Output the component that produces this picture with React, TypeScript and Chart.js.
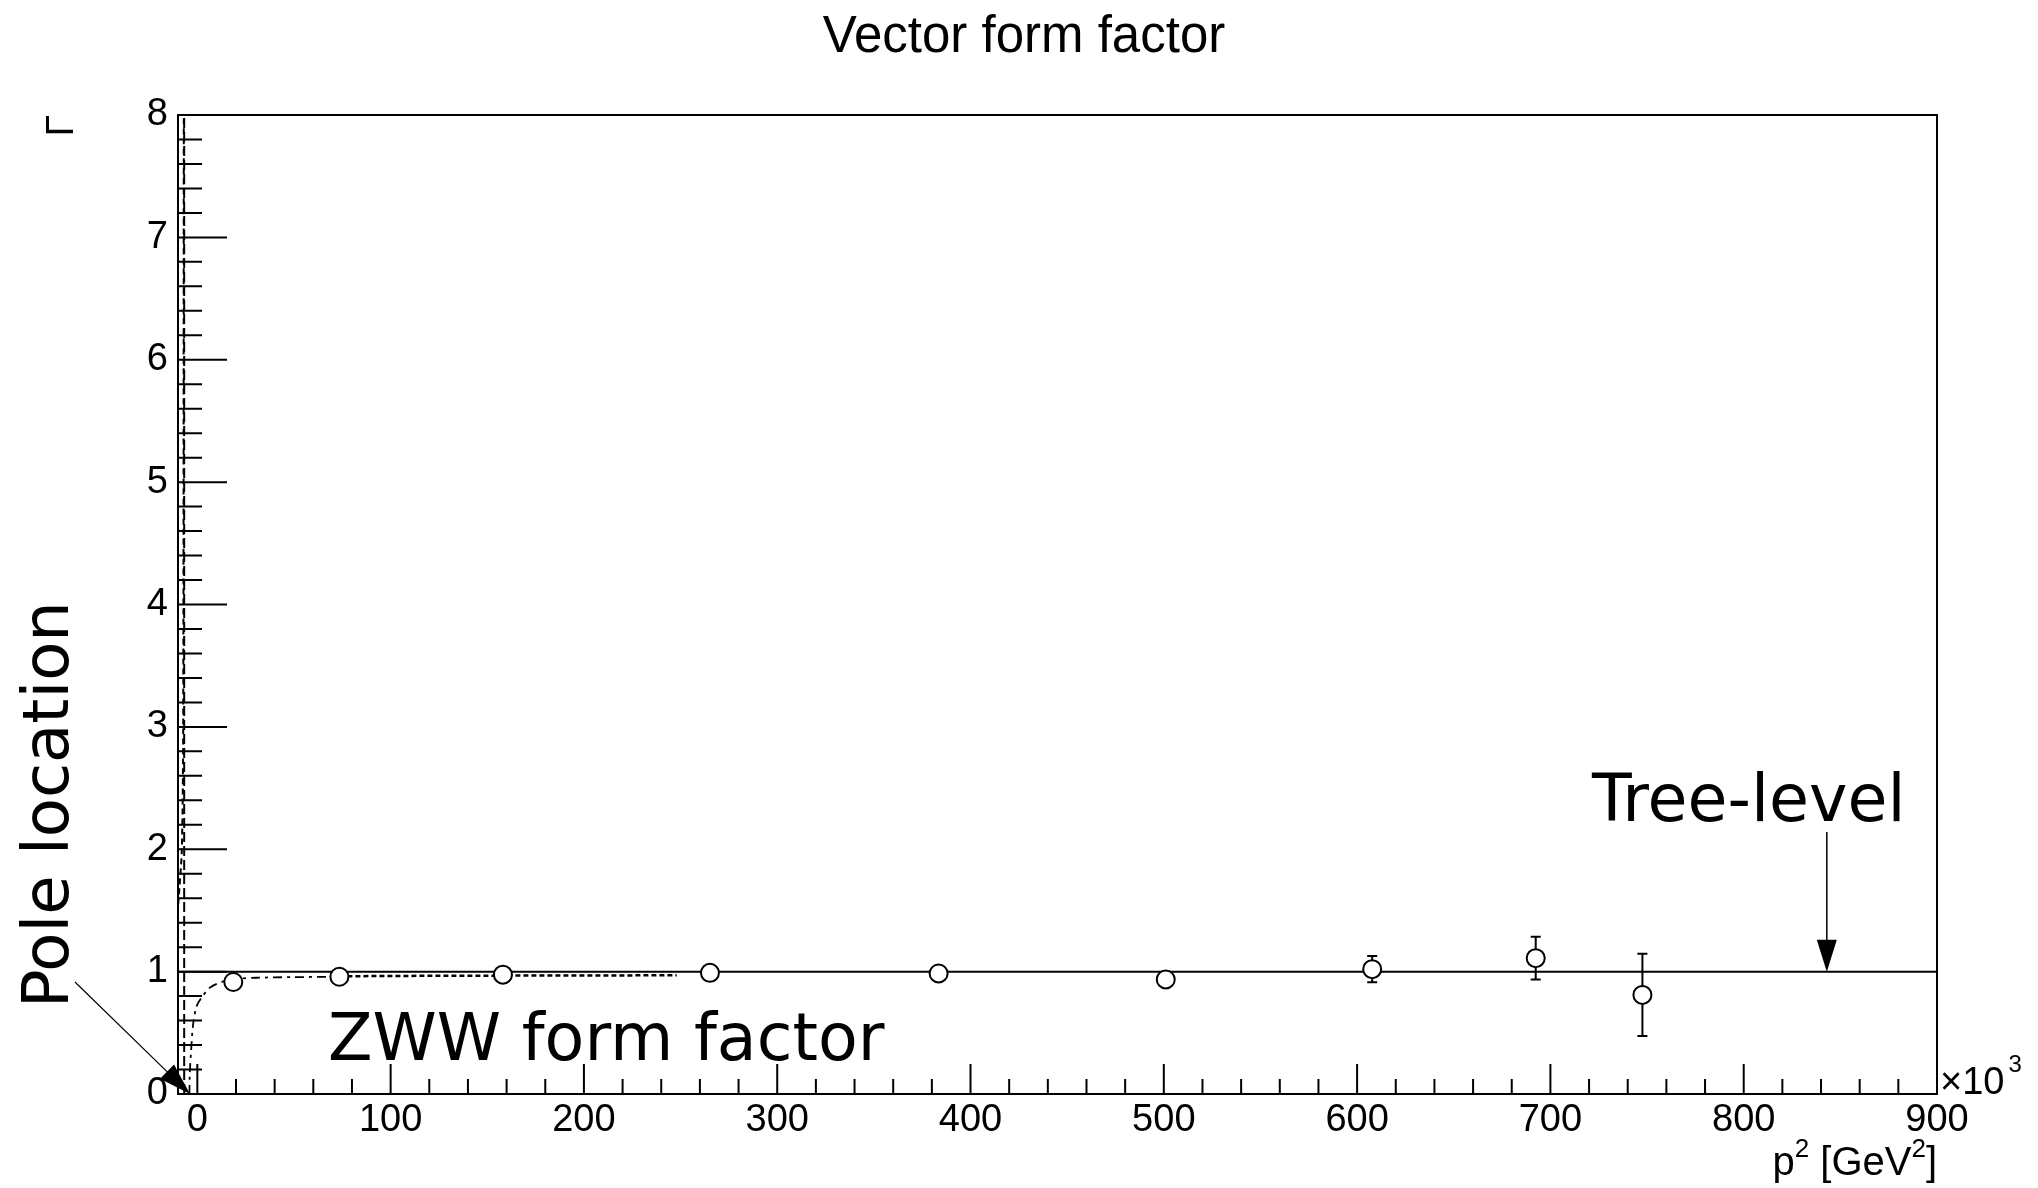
import React, { useEffect, useRef } from 'react';
import { Chart, registerables } from 'chart.js';

Chart.register(...registerables);

// ---- data (x in units of 10^3 GeV^2) ----
const pointX = [18.6, 73.5, 158.1, 265.2, 383.5, 501.0, 607.8, 692.4, 747.6];
const pointY = [0.915, 0.958, 0.975, 0.99, 0.985, 0.936, 1.02, 1.11, 0.81];
const pointErr = [0.015, 0.015, 0.015, 0.015, 0.015, 0.015, 0.107, 0.175, 0.336];

const treeX = [-10, 900];
const treeY = [1, 1];

const zwwX = [-4.1, -3.9, -3.2, -2.1, -0.3, 2.3, 6.6, 13.5, 20.4, 30.7, 50.0, 73.5];
const zwwY = [0.0, 0.17, 0.36, 0.58, 0.72, 0.79, 0.87, 0.92, 0.94, 0.95, 0.955, 0.958];

const zwwTailX = [73.5, 120, 180, 248];
const zwwTailY = [0.962, 0.966, 0.968, 0.97];

const poleX = [-6.8, -6.8];
const poleY = [0, 8];

const branchX = [-9.9, -9.2, -8.0, -7.3, -7.0];
const branchY = [1.55, 1.7, 2.0, 3.0, 8.0];

const xTicks = [0, 100, 200, 300, 400, 500, 600, 700, 800, 900];
const yTicks = [0, 1, 2, 3, 4, 5, 6, 7, 8];

const pts = (xs: number[], ys: number[]) => xs.map((x, i) => ({ x, y: ys[i] }));

const SANS = "'Liberation Sans', Arial, Helvetica, sans-serif";
const DEJA = "'DejaVu Sans', Verdana, sans-serif";

const overlay = {
  id: 'rootStyle',
  beforeDatasetsDraw(chart: any) {
    const { ctx } = chart;
    const xs = chart.scales.x;
    const ys = chart.scales.y;
    ctx.save();
    ctx.strokeStyle = '#000';
    ctx.lineWidth = 2;
    pointX.forEach((x, i) => {
      const px = xs.getPixelForValue(x);
      const y1 = ys.getPixelForValue(pointY[i] - pointErr[i]);
      const y2 = ys.getPixelForValue(pointY[i] + pointErr[i]);
      ctx.beginPath();
      ctx.moveTo(px, y1);
      ctx.lineTo(px, y2);
      ctx.moveTo(px - 5, y1);
      ctx.lineTo(px + 5, y1);
      ctx.moveTo(px - 5, y2);
      ctx.lineTo(px + 5, y2);
      ctx.stroke();
    });
    ctx.restore();
  },
  afterDraw(chart: any) {
    const { ctx, chartArea: a } = chart;
    const xs = chart.scales.x;
    const ys = chart.scales.y;
    ctx.save();
    ctx.strokeStyle = '#000';
    ctx.fillStyle = '#000';
    ctx.lineWidth = 2;
    // frame
    ctx.strokeRect(a.left, a.top, a.right - a.left, a.bottom - a.top);
    // x ticks (inward)
    ctx.beginPath();
    for (let v = 0; v <= 900; v += 20) {
      const px = xs.getPixelForValue(v);
      const len = v % 100 === 0 ? 30 : 15;
      ctx.moveTo(px, a.bottom);
      ctx.lineTo(px, a.bottom - len);
    }
    // y ticks (inward)
    for (let k = 0; k <= 40; k++) {
      const v = k * 0.2;
      const py = ys.getPixelForValue(v);
      const len = k % 5 === 0 ? 49 : 24;
      ctx.moveTo(a.left, py);
      ctx.lineTo(a.left + len, py);
    }
    ctx.stroke();

    // arrows
    const arrow = (x1: number, y1: number, x2: number, y2: number, lw: number) => {
      const ang = Math.atan2(y2 - y1, x2 - x1);
      const L = 32, W = 10;
      ctx.lineWidth = lw;
      ctx.beginPath();
      ctx.moveTo(x1, y1);
      ctx.lineTo(x2 - Math.cos(ang) * L * 0.8, y2 - Math.sin(ang) * L * 0.8);
      ctx.stroke();
      ctx.beginPath();
      ctx.moveTo(x2, y2);
      ctx.lineTo(x2 - L * Math.cos(ang) + W * Math.sin(ang), y2 - L * Math.sin(ang) - W * Math.cos(ang));
      ctx.lineTo(x2 - L * Math.cos(ang) - W * Math.sin(ang), y2 - L * Math.sin(ang) + W * Math.cos(ang));
      ctx.closePath();
      ctx.fill();
    };
    arrow(xs.getPixelForValue(843), ys.getPixelForValue(2.14), xs.getPixelForValue(843), ys.getPixelForValue(1), 1.5);
    arrow(xs.getPixelForValue(-63.3), ys.getPixelForValue(0.915), xs.getPixelForValue(-3.8), ys.getPixelForValue(0), 1.2);

    // title
    ctx.textBaseline = 'alphabetic';
    ctx.textAlign = 'center';
    ctx.font = `51px ${SANS}`;
    ctx.fillText('Vector form factor', 1024, 52);

    // y title (rotated)
    ctx.save();
    ctx.translate(73, a.top);
    ctx.rotate(-Math.PI / 2);
    ctx.textAlign = 'right';
    ctx.font = `39px ${SANS}`;
    ctx.fillText('\u0393', 0, 0);
    ctx.restore();

    // x title with superscripts, right-aligned
    ctx.textAlign = 'left';
    const big = `40px ${SANS}`;
    const small = `26px ${SANS}`;
    const parts: [string, boolean][] = [['p', false], ['2', true], [' [GeV', false], ['2', true], [']', false]];
    let total = 0;
    parts.forEach(([t, s]) => { ctx.font = s ? small : big; total += ctx.measureText(t).width; });
    let cx = a.right - total;
    const base = 1175;
    parts.forEach(([t, s]) => {
      ctx.font = s ? small : big;
      ctx.fillText(t, cx, s ? base - 18 : base);
      cx += ctx.measureText(t).width;
    });

    // x10^3
    ctx.font = `38px ${SANS}`;
    ctx.fillText('\u00d710', a.right + 3, a.bottom);
    const w10 = ctx.measureText('\u00d710').width;
    ctx.font = `24px ${SANS}`;
    ctx.fillText('3', a.right + 3 + w10 + 4, a.bottom - 22);

    // annotations
    ctx.font = `65px ${DEJA}`;
    ctx.fillText('Tree-level', 1592, 821);
    ctx.font = `65px ${DEJA}`;
    ctx.fillText('ZWW form factor', 328, 1060);
    ctx.save();
    ctx.translate(68, 1008);
    ctx.rotate(-Math.PI / 2);
    ctx.font = `64px ${DEJA}`;
    ctx.textAlign = 'left';
    ctx.fillText('Pole location', 0, 0);
    ctx.restore();

    ctx.restore();
  },
};

export default function App() {
  const ref = useRef<HTMLCanvasElement | null>(null);
  useEffect(() => {
    if (!ref.current) return;
    const chart = new Chart(ref.current, {
      type: 'scatter',
      data: {
        datasets: [
          {
            label: 'data',
            data: pts(pointX, pointY),
            showLine: false,
            pointRadius: 9,
            pointBorderWidth: 2,
            pointBackgroundColor: '#fff',
            pointBorderColor: '#000',
          },
          {
            label: 'tree',
            data: pts(treeX, treeY),
            showLine: true,
            borderColor: '#000',
            borderWidth: 2,
            pointRadius: 0,
          },
          {
            label: 'zww',
            data: pts(zwwX, zwwY),
            showLine: true,
            borderColor: '#000',
            borderWidth: 1.8,
            borderDash: [9, 5, 3, 5],
            pointRadius: 0,
            tension: 0.3,
          },
          {
            label: 'zwwTail',
            data: pts(zwwTailX, zwwTailY),
            showLine: true,
            borderColor: '#000',
            borderWidth: 2.5,
            borderDash: [5, 3],
            pointRadius: 0,
          },
          {
            label: 'pole',
            data: pts(poleX, poleY),
            showLine: true,
            borderColor: '#000',
            borderWidth: 2,
            borderDash: [10, 4],
            pointRadius: 0,
          },
          {
            label: 'branch',
            data: pts(branchX, branchY),
            showLine: true,
            borderColor: '#000',
            borderWidth: 2,
            borderDash: [6, 4],
            pointRadius: 0,
            tension: 0.3,
          },
        ],
      },
      options: {
        animation: false,
        responsive: false,
        devicePixelRatio: 1,
        layout: { padding: { top: 115, right: 101, left: 0, bottom: 0 } },
        plugins: { legend: { display: false }, tooltip: { enabled: false }, title: { display: false } },
        scales: {
          x: {
            type: 'linear',
            min: -10,
            max: 900,
            grid: { display: false, drawTicks: false },
            border: { display: false },
            ticks: { color: '#000', padding: 4, font: { family: SANS, size: 38 }, maxRotation: 0 },
            afterBuildTicks: (s: any) => { s.ticks = xTicks.map((v) => ({ value: v })); },
            afterFit: (s: any) => { s.height = 94; },
          },
          y: {
            type: 'linear',
            min: 0,
            max: 8,
            grid: { display: false, drawTicks: false },
            border: { display: false },
            ticks: { color: '#000', padding: 10, font: { family: SANS, size: 38 } },
            afterBuildTicks: (s: any) => { s.ticks = yTicks.map((v) => ({ value: v })); },
            afterFit: (s: any) => { s.width = 178; },
          },
        },
      },
      plugins: [overlay],
    });
    return () => chart.destroy();
  }, []);
  return (
    <div style={{ position: 'absolute', left: 0, top: 0, width: 2038, height: 1188, background: '#fff' }}>
      <canvas ref={ref} width={2038} height={1188} style={{ width: 2038, height: 1188 }} />
    </div>
  );
}
